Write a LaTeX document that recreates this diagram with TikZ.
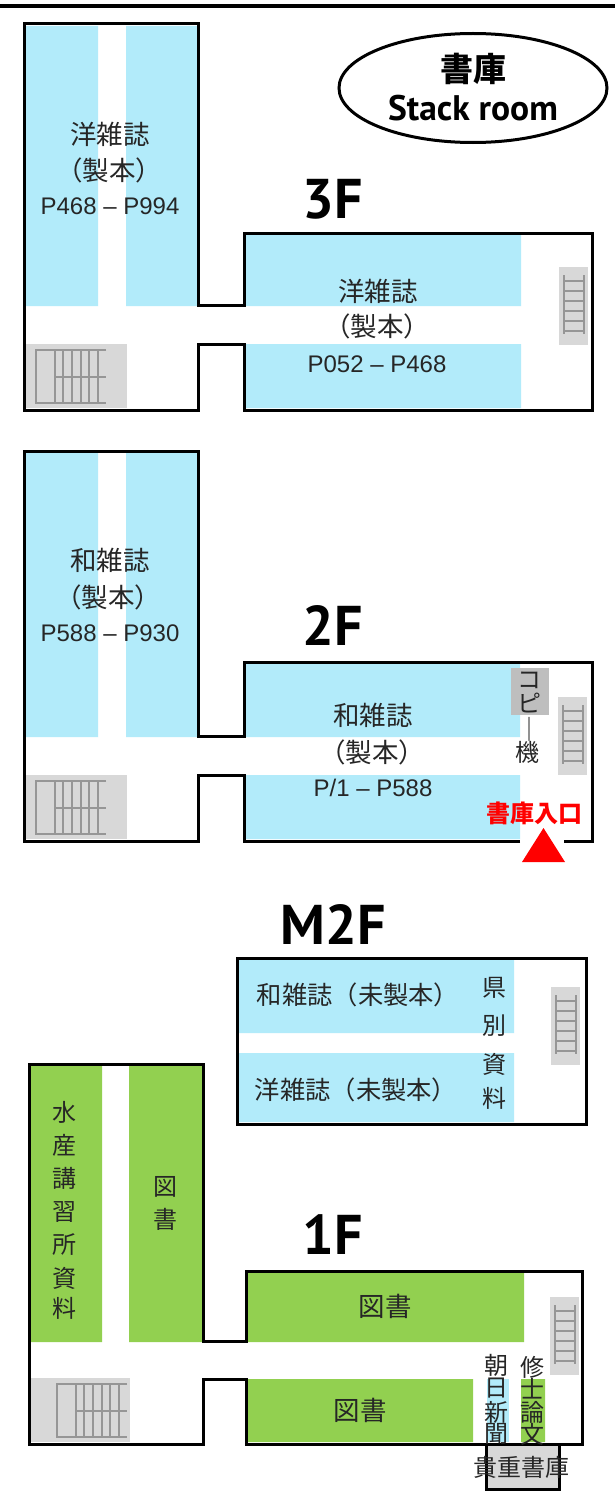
\documentclass[tikz,border=0pt]{standalone}
\usepackage{fontspec}
\setmainfont{Liberation Sans}
\newfontfamily\jp{Noto Sans CJK JP}
\newfontfamily\hd{PT Sans}
\definecolor{skyb}{RGB}{178,235,250}
\definecolor{leaf}{RGB}{146,208,80}
\definecolor{stairbg}{RGB}{216,216,216}
\definecolor{stairln}{RGB}{150,150,150}
\definecolor{copybg}{RGB}{190,190,190}
\tikzset{
  wall/.style={draw=black,line width=3pt,miter limit=10},
  jt/.style={font=\jp\fontsize{26.5}{26.5}\selectfont,inner sep=0pt,text=black!85},
  jw/.style={font=\jp\fontsize{25.3}{25.3}\selectfont,inner sep=0pt,text=black!85},
  js/.style={font=\jp\fontsize{24}{24}\selectfont,inner sep=0pt,text=black!85},
  jv/.style={font=\jp\fontsize{24}{24}\selectfont,inner sep=0pt,text=black!85},
  pg/.style={font=\fontsize{24}{24}\selectfont,inner sep=0pt,text=black!85},
  fl/.style={font=\hd\bfseries\fontsize{56}{56}\selectfont,inner sep=0pt},
  sl/.style={stairln,line width=1.6pt},
}
\newcommand{\mystairs}[4]{% x,y of the gray box's top-left, box width, stair x offset
  \begin{scope}[shift={(#1,#2)}]
    \fill[stairbg] (0,0) rectangle (#3,64);
    \begin{scope}[xshift=#4]
    \draw[sl] (80,6) -- (10,6) -- (10,59) -- (80,59);
    \foreach \vx in {29,37,46,55,63,72} \draw[sl,line width=1.2pt] (\vx,6) -- (\vx,59);
    \draw[sl,line width=1.2pt] (29,33) -- (80,33);
    \end{scope}
  \end{scope}}
\newcommand{\myladder}[2]{% x,y of the gray box's top-left
  \begin{scope}[shift={(#1,#2)}]
    \fill[stairbg] (0,0) rectangle (29,78);
    \draw[sl] (5,8) -- (5,67) (25,8) -- (25,67);
    \foreach \vy in {14,24,34,44,54,64} \draw[sl,line width=1.2pt] (5,\vy) -- (25,\vy);
  \end{scope}}
\begin{document}
\begin{tikzpicture}[x=1pt,y=-1pt]
\useasboundingbox (0,0) rectangle (615,1493);
\fill[white] (0,0) rectangle (615,1493);
\fill[black] (0,4) rectangle (615,8);

% Legend
\draw[line width=3pt] (473,88) ellipse [x radius=134, y radius=54.5];
\node (legA) [font=\jp\bfseries\fontsize{33}{33}\selectfont,inner sep=0pt] at (473,69) {書庫};
\node (legB) [font=\hd\bfseries\fontsize{35.5}{35.5}\selectfont,inner sep=0pt] at (473,108) {Stack room};

% 3F
\fill[skyb] (26,26) rectangle (98,306) (126,26) rectangle (198,306)
  (246,235) rectangle (521,306) (246,344) rectangle (521,408);
\mystairs{26}{344}{101}{0pt}
\myladder{559}{267}
\draw[wall] (24,24) -- (198,24) -- (198,305) -- (244,305) -- (244,233) -- (592,233) -- (592,410) -- (244,410) -- (244,344) -- (198,344) -- (198,410) -- (24,410) -- cycle;
\node (f3) [fl] at (333,199) {3F};
\node (a1) [jt] at (110,134) {洋雑誌};
\node (a2) [jt] at (109,170) {（製本）};
\node (a3) [pg] at (110,206) {P468 – P994};
\node (b1) [jt] at (378,291) {洋雑誌};
\node (b2) [jt] at (377,326) {（製本）};
\node (b3) [pg] at (377,364) {P052 – P468};

% 2F
\fill[skyb] (26,453) rectangle (98,737) (126,453) rectangle (198,737)
  (246,664) rectangle (520,737) (246,775) rectangle (520,839);
\mystairs{26}{775}{101}{0pt}
\myladder{558}{697}
\fill[copybg] (511,668) rectangle (549,715);
\draw[wall] (520,841) -- (244,841) -- (244,775) -- (198,775) -- (198,841) -- (24,841) -- (24,451) -- (198,451) -- (198,736) -- (244,736) -- (244,662) -- (592,662) -- (592,841) -- (564,841);
\node (f2) [fl] at (333,626) {2F};
\node (c1) [jt] at (110,560) {和雑誌};
\node (c2) [jt] at (108,597) {（製本）};
\node (c3) [pg] at (110,633) {P588 – P930};
\node (d1) [jt] at (373,715) {和雑誌};
\node (d2) [jt] at (372,752) {（製本）};
\node (d3) [pg] at (373,788) {P/1 – P588};
\node (e1) [jv] at (529,680) {コ};
\node (e2) [jv] at (529,703) {ピ};
\node (e3) [jv] at (529,729) {｜};
\node (e4) [jv] at (527,752) {機};
\node (ent) [font=\jp\bfseries\fontsize{24}{24}\selectfont,inner sep=0pt,text=red] at (534,813) {書庫入口};
\fill[red] (543.5,828) -- (565,862) -- (522,862) -- cycle;

% M2F
\fill[skyb] (239,960) rectangle (514,1033) (239,1053) rectangle (514,1122);
\myladder{551}{987}
\draw[wall] (237,958) rectangle (586,1124);
\node (fm) [fl] at (333,924) {M2F};
\node (g1) [jw] at (358,995) {和雑誌（未製本）};
\node (g2) [jw] at (356,1090) {洋雑誌（未製本）};
\node (h1) [jv] at (494,988) {県};
\node (h2) [jv] at (494,1026) {別};
\node (h3) [jv] at (494,1064) {資};
\node (h4) [jv] at (494,1098) {料};

% 1F
\fill[leaf] (31,1066) rectangle (102,1342) (129,1066) rectangle (202,1342)
  (248,1273) rectangle (524,1342) (248,1379) rectangle (473,1442) (521,1379) rectangle (545,1442);
\fill[skyb] (487,1379) rectangle (509,1442);
\mystairs{31}{1378}{99}{16pt}
\myladder{550}{1297}
\draw[wall,fill=stairbg] (486,1444) rectangle (559,1489);
\draw[wall] (29,1064) -- (203,1064) -- (203,1341) -- (246,1341) -- (246,1271) -- (582,1271) -- (582,1444) -- (246,1444) -- (246,1379) -- (203,1379) -- (203,1444) -- (29,1444) -- cycle;
\node (f1) [fl] at (333,1235) {1F};
\node (i1) [jv] at (64,1112) {水};
\node (i2) [jv] at (64,1145) {産};
\node (i3) [jv] at (64,1178) {講};
\node (i4) [jv] at (64,1212) {習};
\node (i5) [jv] at (64,1245) {所};
\node (i6) [jv] at (64,1278) {資};
\node (i7) [jv] at (64,1308) {料};
\node (j1) [jv] at (165,1187) {図};
\node (j2) [jv] at (165,1219) {書};
\node (k1) [jt] at (385,1306) {図書};
\node (k2) [jt] at (360,1410) {図書};
\node (m1) [jv] at (496,1365) {朝};
\node (m2) [jv] at (496,1388) {日};
\node (m3) [jv] at (496,1412) {新};
\node (m4) [jv] at (496,1434) {聞};
\node (n1) [jv] at (532,1367) {修};
\node (n2) [jv] at (532,1389) {士};
\node (n3) [jv] at (532,1412) {論};
\node (n4) [jv] at (532,1434) {文};
\node (o1) [js] at (521,1467) {貴重書庫};
\end{tikzpicture}
\end{document}
